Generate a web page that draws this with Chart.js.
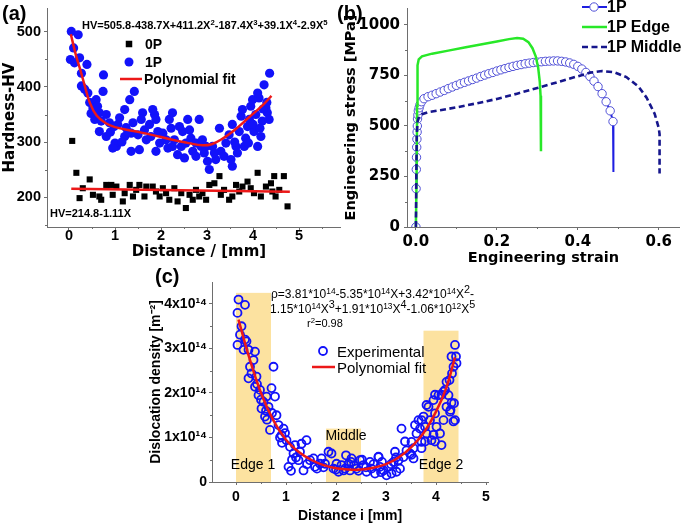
<!DOCTYPE html>
<html>
<head>
<meta charset="utf-8">
<script src="https://cdn.jsdelivr.net/npm/chart.js@4.4.1/dist/chart.umd.min.js"></script>
<style>
  body { margin: 0; background: #fff; }
  #fig { position: relative; width: 685px; height: 525px; overflow: hidden; font-family: "Liberation Sans", Arial, sans-serif; color: #000; }
  canvas { position: absolute; }
  .t { position: absolute; white-space: nowrap; line-height: 1; transform: translateY(-50%); }
  .c { transform: translate(-50%, -50%); }
  .b { font-weight: bold; }
  .s { font-size: 0.7em; vertical-align: 0.5em; }
</style>
</head>
<body>
<div id="fig">
  <canvas id="chartA" width="345" height="262" style="left:0;top:0"></canvas>
  <canvas id="chartB" width="345" height="275" style="left:340px;top:0"></canvas>
  <canvas id="chartC" width="380" height="263" style="left:130px;top:262px"></canvas>

  <div class="t b" style="left:2px;top:13px;font-size:20px">(a)</div>
  <div class="t b" style="left:337px;top:13px;font-size:20px">(b)</div>
  <div class="t b" style="left:155px;top:276px;font-size:20px">(c)</div>

  <div class="t b c" style="left:199px;top:251px;font-size:15px;font-family:'DejaVu Sans'">Distance / [mm]</div>
  <div class="t b" style="left:82px;top:25px;font-size:11px">HV=505.8-438.7X+411.2X<span class="s">2</span>-187.4X<span class="s">3</span>+39.1X<span class="s">4</span>-2.9X<span class="s">5</span></div>
  <div class="t b" style="left:50px;top:213px;font-size:11px">HV=214.8-1.11X</div>
  <div class="t b" style="left:145px;top:44px;font-size:14px">0P</div>
  <div class="t b" style="left:145px;top:62px;font-size:14px">1P</div>
  <div class="t b" style="left:144px;top:79px;font-size:14px">Polynomial fit</div>

  <div class="t b" style="left:607px;top:7px;font-size:16px">1P</div>
  <div class="t b" style="left:607px;top:27px;font-size:16px">1P Edge</div>
  <div class="t b" style="left:607px;top:47px;font-size:16px">1P Middle</div>

  <div class="t" style="left:271px;top:292px;font-size:12px">ρ=3.81*10<span class="s">14</span>-5.35*10<span class="s">14</span>X+3.42*10<span class="s">14</span>X<span class="s" style="font-size:0.9em">2</span>-</div>
  <div class="t" style="left:270px;top:307px;font-size:12px">1.15*10<span class="s">14</span>X<span class="s" style="font-size:0.9em">3</span>+1.91*10<span class="s">13</span>X<span class="s" style="font-size:0.9em">4</span>-1.06*10<span class="s">12</span>X<span class="s" style="font-size:0.9em">5</span></div>
  <div class="t" style="left:307px;top:323px;font-size:11px">r<span class="s">2</span>=0.98</div>
  <div class="t" style="left:337px;top:351px;font-size:15px">Experimental</div>
  <div class="t" style="left:337px;top:367px;font-size:15px">Polynomial fit</div>
  <div class="t c" style="left:253px;top:464px;font-size:14px">Edge 1</div>
  <div class="t c" style="left:346px;top:435px;font-size:14px">Middle</div>
  <div class="t c" style="left:441px;top:464px;font-size:14px">Edge 2</div>
</div>

<script>
// (a) hardness vs distance, [mm, HV]
const hv0P = [
  [0.07,302],[0.16,244],[0.23,198],[0.3,216],[0.45,232],[0.52,204],[0.66,201],[0.7,195],
  [0.81,222],[0.92,222],[0.95,204],[1.03,219],[1.17,192],[1.21,207],[1.32,222],[1.39,201],
  [1.46,213],[1.53,222],[1.64,201],[1.68,219],[1.82,219],[1.89,210],[1.97,201],[2.04,216],
  [2.11,207],[2.18,195],[2.29,216],[2.36,192],[2.44,207],[2.54,180],[2.62,204],[2.69,195],
  [2.76,213],[2.83,201],[2.9,207],[2.98,195],[3.05,222],[3.16,225],[3.27,238],[3.3,204],
  [3.37,213],[3.48,195],[3.55,201],[3.63,222],[3.7,210],[3.77,219],[3.88,228],[3.95,216],
  [4.02,207],[4.1,244],[4.17,201],[4.28,219],[4.39,225],[4.46,238],[4.49,201],[4.57,213],
  [4.67,238],[4.75,183],[4.42,210]
];
const hv1P = [
  [0.05,501],[0.2,495],[0.03,450],[0.1,471],[0.12,444],[0.23,453],[0.39,441],[0.27,425],
  [0.27,402],[0.34,396],[0.41,389],[0.75,422],[0.45,372],[0.59,377],[0.74,392],[0.52,362],
  [0.66,353],[0.56,341],[0.81,350],[0.88,335],[0.66,319],[0.81,310],[1.03,292],[1.06,332],
  [1.21,359],[1.1,344],[1.32,377],[1.42,392],[1.35,316],[1.21,310],[1.35,283],[1.53,286],
  [1.5,313],[1.64,322],[1.68,304],[1.75,332],[1.86,350],[1.89,341],[1.78,310],[1.89,283],
  [1.97,298],[2.04,316],[2.11,304],[2.15,289],[2.18,341],[2.22,325],[2.25,353],[2.29,304],
  [2.36,277],[2.47,319],[2.44,292],[2.51,271],[2.54,298],[2.62,322],[2.65,307],[2.69,283],
  [2.76,274],[2.83,341],[2.87,292],[2.94,280],[3.01,265],[3.05,250],[3.12,292],[3.19,268],
  [3.27,325],[3.3,283],[3.37,274],[3.41,298],[3.48,313],[3.55,256],[3.55,332],[3.63,292],
  [3.66,280],[3.7,319],[3.74,347],[3.77,359],[3.84,307],[3.88,328],[3.92,341],[3.95,365],
  [3.99,377],[4.02,319],[4.06,350],[4.1,292],[4.13,380],[4.17,310],[4.2,338],[4.24,404],
  [4.28,362],[4.31,353],[4.35,341],[4.36,425],[4.1,389],[1.0,298],[0.95,289],[1.6,353],
  [1.24,326],[1.39,335],[1.57,341],[1.93,319],[1.82,359],[2.4,328],[2.58,341],[2.25,292],
  [2.76,298],[2.9,304],[2.98,292],[3.52,268],[3.16,280],[3.81,292],[0.48,352],[0.62,365],
  [0.7,338],[0.9,318],[0.98,328],[1.15,300],[1.28,318],[3.6,300],[3.9,298],[4.0,332],
  [4.15,325],[4.22,360],[4.3,372]
];
const hv1PFit = [
  [0.04,496],[0.15,458],[0.25,430],[0.35,400],[0.45,372],[0.6,348],[0.8,334],[1.0,327],
  [1.4,320],[1.8,313],[2.2,305],[2.6,298],[2.9,294],[3.1,296],[3.3,304],[3.6,322],
  [3.9,344],[4.2,366],[4.4,384]
];
const hv0PFit = [[0.05,215],[4.8,209.5]];
const aXTicks = [0, 1, 2, 3, 4, 5];
const aYTicks = [200, 300, 400, 500];
const aXMinor = [0.5, 1.5, 2.5, 3.5, 4.5, 5.5];
const aYMinor = [150, 250, 350, 450];

// (b) engineering stress-strain, [strain, MPa]
const curve1P = [
  [0,0],[0.0005,190],[0.001,285],[0.0015,345],[0.002,395],[0.0025,435],[0.003,470],[0.0035,500],
  [0.004,535],[0.005,555],[0.006,575],[0.008,590],[0.01,605],[0.014,620],[0.02,635],[0.03,645],
  [0.04,652],[0.05,660],[0.06,668],[0.07,676],[0.08,685],[0.09,693],[0.1,701],[0.11,709],
  [0.12,716],[0.13,723],[0.14,730],[0.15,737],[0.16,745],[0.17,752],[0.18,759],[0.19,765],
  [0.2,772],[0.21,778],[0.22,784],[0.23,790],[0.24,795],[0.25,800],[0.26,804],[0.27,808],
  [0.28,811],[0.29,814],[0.3,816],[0.31,818],[0.32,820],[0.33,821],[0.34,822],[0.35,822],
  [0.36,820],[0.37,817],[0.38,812],[0.39,805],[0.4,795],[0.41,782],[0.42,765],[0.43,745],
  [0.44,722],[0.45,695],[0.46,660],[0.47,620],[0.48,575],[0.487,522],[0.488,272]
];
const curveEdge = [
  [0,0],[0.002,300],[0.003,600],[0.004,800],[0.007,830],[0.015,845],[0.04,858],[0.08,873],
  [0.12,888],[0.16,903],[0.2,918],[0.23,930],[0.25,936],[0.265,932],[0.278,915],[0.288,885],
  [0.296,845],[0.302,790],[0.306,720],[0.308,650],[0.309,560],[0.309,375]
];
const curveMiddle = [
  [0,0],[0.001,250],[0.002,450],[0.004,520],[0.008,548],[0.015,558],[0.03,568],[0.06,578],
  [0.1,592],[0.15,612],[0.2,634],[0.25,660],[0.3,688],[0.35,717],[0.4,746],[0.43,764],
  [0.46,772],[0.49,766],[0.52,742],[0.55,695],[0.57,640],[0.59,560],[0.6,490],[0.602,460],
  [0.602,265]
];
const bXTicks = [0, 0.2, 0.4, 0.6];
const bXLabels = ['0.0', '0.2', '0.4', '0.6'];
const bYTicks = [0, 250, 500, 750, 1000];
const bXMinor = [0.1, 0.3, 0.5];
const bYMinor = [125, 375, 625, 875];

// (c) dislocation density, [mm, 10^14 m^-2]
const rhoExp = [
  [0.03,3.8],[0.05,4.1],[0.18,3.98],[0.03,3.08],[0.11,3.5],[0.08,3.31],[0.15,2.97],[0.18,3.2],
  [0.25,2.97],[0.21,3.16],[0.38,2.93],[0.35,2.74],[0.28,2.59],[0.31,2.44],[0.25,2.33],[0.41,2.37],
  [0.38,2.14],[0.48,2.07],[0.45,1.95],[0.55,1.8],[0.61,1.92],[0.75,2.59],[0.71,2.11],[0.78,1.92],
  [0.51,1.65],[0.58,1.47],[0.65,1.69],[0.68,1.17],[0.81,1.5],[0.85,1.28],[0.91,1.05],[0.95,1.2],
  [1.01,0.94],[1.05,0.34],[1.08,0.79],[1.15,0.64],[1.18,0.83],[1.25,0.49],[1.31,0.86],[1.35,0.26],
  [1.41,0.94],[1.28,0.68],[1.48,0.49],[1.55,0.53],[1.58,0.34],[1.68,0.41],[1.71,0.53],[1.78,0.41],
  [1.85,0.68],[1.91,0.64],[1.95,0.3],[2.01,0.41],[2.05,0.23],[2.11,0.38],[2.15,0.26],[2.2,0.6],
  [2.25,0.41],[2.28,0.26],[2.31,0.53],[2.36,0.38],[2.41,0.3],[2.48,0.49],[2.55,0.38],[2.61,0.23],
  [2.68,0.45],[2.71,0.3],[2.78,0.19],[2.85,0.56],[2.88,0.34],[2.95,0.26],[3.01,0.15],[3.05,0.34],
  [3.11,0.19],[3.15,0.45],[3.21,0.23],[3.25,0.49],[3.31,1.2],[3.35,0.56],[3.41,0.71],[3.48,0.64],
  [3.51,0.9],[3.58,1.28],[3.61,1.09],[3.55,0.53],[3.65,1.39],[3.68,1.2],[3.71,0.9],[3.75,1.47],
  [3.78,1.24],[3.81,1.09],[3.85,1.69],[3.88,1.39],[3.91,0.94],[3.95,1.84],[3.98,1.54],[4.01,1.24],
  [4.05,1.95],[4.08,1.09],[4.11,0.83],[4.15,1.39],[4.18,2.07],[4.21,1.69],[4.25,1.95],[4.27,2.29],
  [4.29,1.62],[4.32,2.44],[4.35,2.59],[4.38,1.39],[4.36,1.77],[4.4,2.82],[4.38,3.08],[4.41,2.67],
  [3.71,1.39],[3.81,1.73],[3.98,1.96],[4.11,1.96],[4.31,1.78],[4.28,1.58],[4.35,1.36],[3.95,1.06],
  [3.78,0.91],[3.55,0.76],[3.38,0.91],[3.18,0.68],[2.85,0.57],[3.51,0.61],[3.71,0.76],[3.98,0.91],
  [4.31,2.82],[4.21,2.25],[4.15,2.03],[0.42,2.2],[0.5,1.85],[0.6,1.6],[0.62,1.4],[0.72,1.55],
  [0.88,1.0],[0.92,0.88],[0.98,1.1],[1.12,0.5],[1.2,0.55],[1.42,0.4],[1.62,0.3],[1.75,0.33],
  [2.0,0.28],[2.18,0.3],[2.45,0.25],[2.6,0.33],[2.75,0.4],[2.92,0.45],[3.1,0.4],[3.28,0.3],
  [1.1,0.25],[2.3,0.45],[2.52,0.5],[2.9,0.22],[3.2,0.55]
];
const rhoFit = [
  [0.05,3.65],[0.25,2.85],[0.5,2.0],[0.75,1.38],[1.0,0.95],[1.25,0.68],[1.5,0.5],[1.75,0.38],
  [2.0,0.31],[2.25,0.28],[2.5,0.28],[2.75,0.32],[3.0,0.4],[3.25,0.55],[3.5,0.78],[3.75,1.1],
  [4.0,1.58],[4.2,2.1],[4.38,2.8]
];
const zoneFrom = [0, 1.8, 3.75];
const zoneTo = [0.7, 2.5, 4.45];
const zoneTop = [4.25, 1.2, 3.4];
const cXTicks = [0, 1, 2, 3, 4, 5];
const cYTicks = [0, 1, 2, 3, 4];
const cYLabels = ['0', '1x10¹⁴', '2x10¹⁴', '3x10¹⁴', '4x10¹⁴'];
const cXMinor = [0.5, 1.5, 2.5, 3.5, 4.5];
const cYMinor = [0.5, 1.5, 2.5, 3.5];

const AXIS = '#6e6e6e';
const RED = 'rgb(236,24,24)';
const BLUE = 'rgb(18,18,250)';
const wide = 'DejaVu Sans';
const arial = 'Liberation Sans';

const xy = arr => arr.map(p => ({ x: p[0], y: p[1] }));

// axis with fixed box size so the plot area lands where the picture has it
function makeAxis(o) {
  return {
    type: 'linear',
    min: o.min,
    max: o.max,
    afterFit: s => {
      if (s.isHorizontal()) { s.height = o.size; s.paddingLeft = 0; s.paddingRight = 0; }
      else { s.width = o.size; s.paddingTop = 0; s.paddingBottom = 0; }
    },
    afterBuildTicks: s => { s.ticks = o.ticks.map(v => ({ value: v })); },
    ticks: {
      autoSkip: false, maxRotation: 0, minRotation: 0, padding: o.pad, color: '#000',
      font: { family: o.family, size: o.fontSize, weight: 'bold', lineHeight: o.lineHeight || 1.2 },
      callback: (v, i) => (o.labels ? o.labels[i] : String(v))
    },
    grid: { drawOnChartArea: false, drawTicks: true, tickLength: 3, tickColor: AXIS, tickWidth: 1 },
    border: { display: true, color: AXIS, width: 1 },
    title: {
      display: !!o.title, text: o.title || '', color: '#000',
      font: { family: o.titleFamily || o.family, size: o.titleSize, weight: 'bold' },
      padding: o.titlePad
    }
  };
}

function drawMark(ctx, m) {
  ctx.save();
  if (m.kind === 'square') {
    ctx.fillStyle = m.color;
    ctx.fillRect(m.x - m.s / 2, m.y - m.s / 2, m.s, m.s);
  } else if (m.kind === 'dot') {
    ctx.fillStyle = m.color;
    ctx.beginPath(); ctx.arc(m.x, m.y, m.r, 0, Math.PI * 2); ctx.fill();
  } else if (m.kind === 'ring') {
    ctx.fillStyle = '#fff';
    ctx.strokeStyle = m.color; ctx.lineWidth = m.w;
    ctx.beginPath(); ctx.arc(m.x, m.y, m.r, 0, Math.PI * 2); ctx.fill(); ctx.stroke();
  } else if (m.kind === 'line') {
    ctx.strokeStyle = m.color; ctx.lineWidth = m.w;
    ctx.setLineDash(m.dash || []);
    ctx.beginPath(); ctx.moveTo(m.x1, m.y); ctx.lineTo(m.x2, m.y); ctx.stroke();
  }
  ctx.restore();
}

// minor ticks, shaded zones and the hand-placed legend symbols
const extras = {
  id: 'extras',
  beforeDatasetsDraw(chart, args, o) {
    const { ctx, scales: { x, y } } = chart;
    (o.zones || []).forEach(z => {
      ctx.save();
      ctx.fillStyle = 'rgb(252,226,160)';
      const x0 = x.getPixelForValue(z.from), x1 = x.getPixelForValue(z.to);
      const y0 = y.getPixelForValue(z.top), y1 = y.getPixelForValue(0);
      ctx.fillRect(x0, y0, x1 - x0, y1 - y0);
      ctx.restore();
    });
  },
  afterDraw(chart, args, o) {
    const { ctx, scales: { x, y } } = chart;
    ctx.save();
    ctx.strokeStyle = AXIS; ctx.lineWidth = 1;
    ctx.beginPath();
    (o.xMinor || []).forEach(v => {
      const px = Math.round(x.getPixelForValue(v)) + 0.5;
      ctx.moveTo(px, x.top); ctx.lineTo(px, x.top + 2);
    });
    (o.yMinor || []).forEach(v => {
      const py = Math.round(y.getPixelForValue(v)) + 0.5;
      ctx.moveTo(y.right, py); ctx.lineTo(y.right - 2, py);
    });
    ctx.stroke();
    ctx.restore();
    (o.marks || []).forEach(m => drawMark(ctx, m));
  }
};

const base = {
  responsive: false,
  animation: false,
  events: [],
  plugins: { legend: { display: false }, tooltip: { enabled: false } }
};

// (a)
new Chart(document.getElementById('chartA'), {
  type: 'scatter',
  data: {
    datasets: [
      { label: 'Polynomial fit', data: xy(hv1PFit), showLine: true, borderColor: RED, borderWidth: 2.5, pointRadius: 0, tension: 0.4, order: 0 },
      { label: '0P fit', data: xy(hv0PFit), showLine: true, borderColor: RED, borderWidth: 2.5, pointRadius: 0, order: 0 },
      { label: '1P', data: xy(hv1P), pointRadius: 4.6, pointBorderWidth: 0, backgroundColor: BLUE, borderColor: BLUE, order: 1 },
      { label: '0P', data: xy(hv0P), pointStyle: 'rect', pointRadius: 4.3, pointBorderWidth: 0, backgroundColor: '#000', borderColor: '#000', order: 2 }
    ]
  },
  options: {
    ...base,
    layout: { padding: { left: 0, top: 8, right: 5, bottom: 0 } },
    scales: {
      x: makeAxis({ min: -0.478, max: 5.89, size: 35, ticks: aXTicks, pad: 0, lineHeight: 0.8, family: arial, fontSize: 14.5 }),
      y: makeAxis({ min: 145.5, max: 543.6, size: 47, ticks: aYTicks, pad: 3, family: arial, fontSize: 14.5,
        title: 'Hardness-HV', titleFamily: wide, titleSize: 15, titlePad: { top: 1, bottom: 0 } })
    },
    plugins: {
      ...base.plugins,
      extras: {
        xMinor: aXMinor, yMinor: aYMinor,
        marks: [
          { kind: 'square', x: 129, y: 44, s: 6.5, color: '#000' },
          { kind: 'dot', x: 129, y: 62, r: 4.5, color: BLUE },
          { kind: 'line', x1: 120, x2: 142, y: 79, w: 2.5, color: RED }
        ]
      }
    }
  },
  plugins: [extras]
});

// (b)
const last1P = curve1P.length - 1;
new Chart(document.getElementById('chartB'), {
  type: 'scatter',
  data: {
    datasets: [
      { label: '1P Middle', data: xy(curveMiddle), showLine: true, borderColor: 'rgb(22,22,140)', borderWidth: 2.6, borderDash: [6, 3.5], pointRadius: 0, order: 0 },
      { label: '1P Edge', data: xy(curveEdge), showLine: true, borderColor: 'rgb(40,232,40)', borderWidth: 2.5, pointRadius: 0, order: 1 },
      { label: '1P', data: xy(curve1P), showLine: true, borderColor: 'rgb(30,30,225)', borderWidth: 2,
        pointRadius: c => (c.dataIndex === last1P ? 0 : 4.2), pointBorderWidth: 1,
        pointBorderColor: 'rgb(80,80,215)', pointBackgroundColor: '#fff', order: 2 }
    ]
  },
  options: {
    ...base,
    layout: { padding: { left: 0, top: 8, right: 3, bottom: 0 } },
    scales: {
      x: makeAxis({ min: -0.022, max: 0.652, size: 48, ticks: bXTicks, labels: bXLabels, pad: 3, family: wide, fontSize: 15,
        title: 'Engineering strain', titleSize: 14.5, titlePad: { top: 0, bottom: 8 } }),
      y: makeAxis({ min: 0, max: 1084, size: 67, ticks: bYTicks, pad: 4, family: wide, fontSize: 15,
        title: 'Engineering stress [MPa]', titleSize: 14.5, titlePad: { top: 2.3, bottom: 0 } })
    },
    plugins: {
      ...base.plugins,
      extras: {
        xMinor: bXMinor, yMinor: bYMinor,
        marks: [
          { kind: 'line', x1: 242, x2: 267, y: 7, w: 2, color: 'rgb(30,30,225)' },
          { kind: 'ring', x: 254, y: 7, r: 4.2, w: 1, color: 'rgb(80,80,215)' },
          { kind: 'line', x1: 242, x2: 267, y: 27, w: 2.5, color: 'rgb(40,232,40)' },
          { kind: 'line', x1: 242, x2: 267, y: 47, w: 2.6, color: 'rgb(22,22,140)', dash: [6, 3.5] }
        ]
      }
    }
  },
  plugins: [extras]
});

// (c)
new Chart(document.getElementById('chartC'), {
  type: 'scatter',
  data: {
    datasets: [
      { label: 'Polynomial fit', data: xy(rhoFit), showLine: true, borderColor: RED, borderWidth: 2.5, pointRadius: 0, tension: 0.4, order: 0 },
      { label: 'Experimental', data: xy(rhoExp), pointRadius: 4, pointBorderWidth: 1.8,
        pointBorderColor: BLUE, pointBackgroundColor: 'rgba(0,0,0,0)', order: 1 }
    ]
  },
  options: {
    ...base,
    layout: { padding: { left: 0, top: 20, right: 22, bottom: 0 } },
    scales: {
      x: makeAxis({ min: -0.48, max: 5.04, size: 43, ticks: cXTicks, pad: 4, family: arial, fontSize: 14,
        title: 'Distance i [mm]', titleSize: 14, titlePad: { top: 0, bottom: 0 } }),
      y: makeAxis({ min: 0, max: 4.494, size: 82, ticks: cYTicks, labels: cYLabels, pad: 2, family: arial, fontSize: 14,
        title: 'Dislocation density [m⁻²]', titleSize: 14, titlePad: { top: 17.6, bottom: 0 } })
    },
    plugins: {
      ...base.plugins,
      extras: {
        xMinor: cXMinor, yMinor: cYMinor,
        zones: zoneFrom.map((f, i) => ({ from: f, to: zoneTo[i], top: zoneTop[i] })),
        marks: [
          { kind: 'ring', x: 193, y: 89, r: 4, w: 1.8, color: BLUE },
          { kind: 'line', x1: 182, x2: 205, y: 105, w: 2.5, color: RED }
        ]
      }
    }
  },
  plugins: [extras]
});
</script>
</body>
</html>
